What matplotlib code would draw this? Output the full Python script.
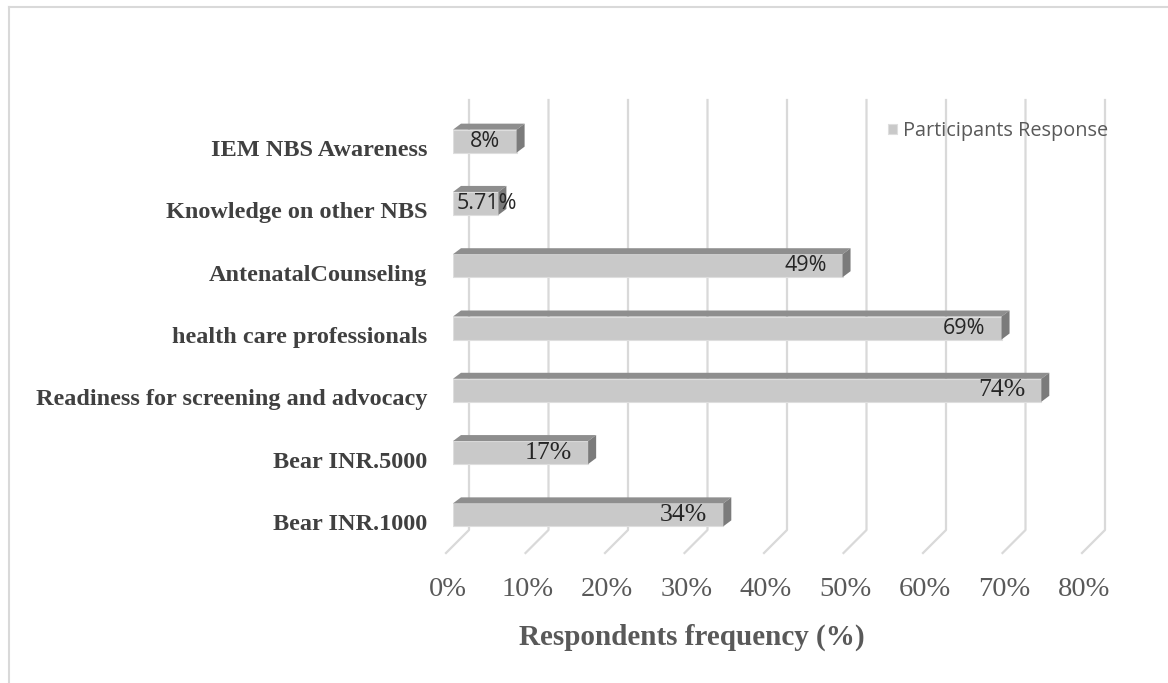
import matplotlib
matplotlib.use('Agg')
import matplotlib.pyplot as plt
from matplotlib.patches import Polygon
from matplotlib.lines import Line2D
from matplotlib.transforms import ScaledTranslation

# data, bottom to top
categories = ['Bear INR.1000', 'Bear INR.5000', 'Readiness for screening and advocacy',
              'health care professionals', 'AntenatalCounseling', 'Knowledge on other NBS',
              'IEM NBS Awareness']
values = [34, 17, 74, 69, 49, 5.71, 8]
value_labels = ['34%', '17%', '74%', '69%', '49%', '5.71%', '8%']
x_ticks = [0, 10, 20, 30, 40, 50, 60, 70, 80]
x_tick_labels = ['0%', '10%', '20%', '30%', '40%', '50%', '60%', '70%', '80%']
series_name = 'Participants Response'

W, H = 1168, 683
fig = plt.figure(figsize=(W / 100, H / 100), dpi=100)
fig.patch.set_facecolor('white')

# axes: front plane of the 3d chart
ax = fig.add_axes([453 / W, 1 - 546 / H, 636 / W, 436 / H])
ax.set_xlim(0, 80)
ax.set_ylim(-0.5, 6.5)
for s in ax.spines.values():
    s.set_visible(False)

px_x = 636 / 80.0   # pixels per percent
px_y = 436 / 7.0    # pixels per category
back_dx = 16 / px_x
bar_dx = 8 / px_x
bar_dy = 6 / px_y
bar_h = 23 / px_y

# slanted gridlines (back wall + floor)
grid_top = 6.5 + 10 / px_y
grid_bot = -0.5 + 16 / px_y
floor_x = 23 / px_x
floor_y = 23 / px_y
for v in x_ticks:
    gx = v + back_dx
    ax.plot([gx, gx, gx - floor_x], [grid_top, grid_bot, grid_bot - floor_y],
            color='#d9d9d9', lw=1.6, clip_on=False, zorder=1)

ypos = list(range(len(categories)))
bars = ax.barh(ypos, values, height=bar_h, color='#c9c9c9', edgecolor='#dedede',
               lw=0.8, zorder=3, label=series_name)

# top and side faces of each bar
for y, v in zip(ypos, values):
    top = y + bar_h / 2
    bot = y - bar_h / 2
    ax.add_patch(Polygon([(0, top), (v, top), (v + bar_dx, top + bar_dy), (bar_dx, top + bar_dy)],
                         closed=True, fc='#8e8e8e', ec='none', zorder=3, clip_on=False))
    ax.add_patch(Polygon([(v, bot), (v, top), (v + bar_dx, top + bar_dy), (v + bar_dx, bot + bar_dy)],
                         closed=True, fc='#7b7b7b', ec='none', zorder=3, clip_on=False))

# data labels
label_fonts = ['Liberation Serif', 'Liberation Serif', 'Liberation Serif',
               'Open Sans', 'Open Sans', 'Open Sans', 'Open Sans']
for y, v, lab, fnt in zip(ypos, values, value_labels, label_fonts):
    if fnt == 'Open Sans':
        size = 15.5
    else:
        size = 18.5
    if v < 7:
        ax.text(0.4, y, lab, ha='left', va='center', fontsize=size, family=fnt,
                color='#262626', zorder=5, clip_on=False)
    else:
        ax.text(v - back_dx, y, lab, ha='right', va='center', fontsize=size, family=fnt,
                color='#262626', zorder=5)

# x tick labels
ax.set_xticks(x_ticks)
ax.set_xticklabels(x_tick_labels, fontsize=20.5, family='Liberation Serif', color='#595959')
ax.tick_params(axis='x', length=0, pad=22)
for t in ax.get_xticklabels():
    t.set_transform(t.get_transform() + ScaledTranslation(-5 / 100, 0, fig.dpi_scale_trans))

# category labels
ax.set_yticks(ypos)
ax.set_yticklabels(categories, fontsize=17.5, family='Liberation Serif', fontweight='bold',
                   color='#404040')
ax.tick_params(axis='y', length=0, pad=18.5)
for t in ax.get_yticklabels():
    t.set_transform(t.get_transform() + ScaledTranslation(0, -7 / 100, fig.dpi_scale_trans))

fig.text(692 / W, 1 - 637 / H, 'Respondents frequency (%)', ha='center', va='center',
         fontsize=21, family='Liberation Serif', fontweight='bold', color='#595959')

leg = fig.legend(handles=[bars], loc='center left', bbox_to_anchor=(878 / W, 1 - 131 / H),
                 frameon=False, borderpad=0, handlelength=0.45, handleheight=0.45,
                 handletextpad=0.3, prop={'family': 'Open Sans', 'size': 14.3})
for t in leg.get_texts():
    t.set_color('#595959')

# chart border
fig.add_artist(Line2D([8.5 / W, 8.5 / W], [0, 1 - 6.5 / H], color='#d9d9d9', lw=1.5))
fig.add_artist(Line2D([8.5 / W, 1], [1 - 6.5 / H, 1 - 6.5 / H], color='#d9d9d9', lw=1.5))

plt.savefig('out.png', dpi=100)
